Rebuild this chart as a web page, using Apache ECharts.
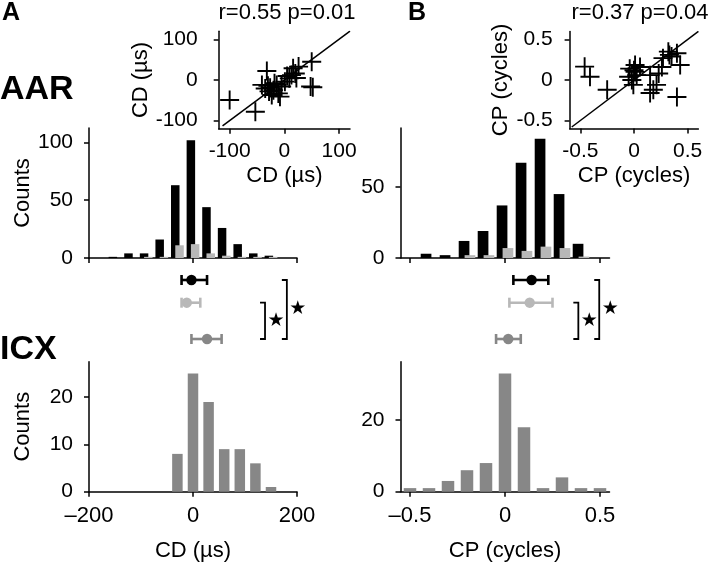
<!DOCTYPE html>
<html><head><meta charset="utf-8">
<script src="https://cdn.jsdelivr.net/npm/echarts@6/dist/echarts.min.js"></script>
<style>html,body{margin:0;padding:0;background:#fff}#c{width:720px;height:564px}</style>
</head><body><div id="c"></div>
<script>
// ---------------- data ----------------
// A: CD histograms (µs)
const cdBins = [-150,-120,-90,-60,-30,0,30,60,90,120,150];
const cdAarAll = [1,4,4,16,63,102,44,26,12,4,2];
const cdAarSub = [0,0,1,1,11,12,4,2,1,1,1];
const cdIcxBins = [-30,0,30,60,90,120,150];
const cdIcx = [8,25,19,9,9,6,1];
// B: CP histograms (cycles)
const cpBins = [-0.4,-0.3,-0.2,-0.1,0,0.1,0.2,0.3,0.4];
const cpAarAll = [3,2,12,19,37,67,84,45,10];
const cpAarSub = [0,0,2,2,7,5,8,7,1];
const cpIcxBins = [-0.5,-0.4,-0.3,-0.2,-0.1,0,0.1,0.2,0.3,0.4,0.5];
const cpIcx = [1,1,3,6,8,33,18,1,4,1,1];
// means with confidence intervals: [AAR all, AAR subset, ICX]
const cdMean = [-3,-12,27];
const cdLow  = [-22,-22,-3];
const cdHigh = [27,14,55];
const cpMean = [0.14,0.13,0.017];
const cpLow  = [0.044,0.023,-0.047];
const cpHigh = [0.228,0.25,0.083];
// inset scatter (subset vs ICX)
const cdScX = [-100,-53,-32,-41,-26,-20,-11,-5,-14,1,9,20,16,26,50,48,-35,-8,-23,13,-18,5,-28,22,52,-30];
const cdScY = [-49,-78,22,-12,-19,-25,-33,-16,-12,-4,4,16,29,33,45,-16,-21,-41,-37,12,-8,10,-28,5,-18,-14];
const cpScX = [-0.46,-0.41,-0.25,-0.04,0.01,-0.02,0.025,-0.05,0.056,-0.006,0.15,0.23,0.26,0.21,0.18,0.15,0.32,0.35,0.40,0.43,0.40,0.27,0.01,0.0,0.33];
const cpScY = [0.165,0.04,-0.12,0.14,0.10,0.0,0.06,0.04,0.16,-0.06,0.06,0.08,0.16,-0.06,-0.12,-0.16,0.35,0.29,0.33,0.185,-0.21,0.27,0.185,0.12,0.31];
const cdStats = 'r=0.55 p=0.01';
const cpStats = 'r=0.37 p=0.04';
const cdTicks = [-200,0,200];
const cpTicks = [-0.5,0,0.5];

// ---------------- chart ----------------
const FONT = "'Liberation Sans', Arial, Helvetica, sans-serif";
const BLACK = '#000', LIGHT = '#b8b8b8', MID = '#878787';
const rowLevel = [0, 1, 2.6];
const rowColor = [BLACK, LIGHT, MID];
const zip = (a, b) => a.map((v, i) => [v, b[i]]);
const dash = v => String(v).replace('-', '\u2013');

function axisBase(extra) {
  return Object.assign({
    axisLine: {show: true, onZero: false, lineStyle: {color: '#000', width: 1.5}},
    axisTick: {show: true, length: 5, lineStyle: {color: '#000', width: 1.5}},
    splitLine: {show: false},
    axisLabel: {color: '#000', fontSize: 21, fontFamily: FONT},
    nameTextStyle: {color: '#000', fontSize: 22, fontFamily: FONT},
    nameLocation: 'middle'
  }, extra);
}
function ticks(vals, showLabel, fmt, margin, fs) {
  return {
    axisTick: {show: true, length: 5, lineStyle: {color: '#000', width: 1.5}, customValues: vals},
    axisLabel: {show: showLabel, customValues: vals, color: '#000', fontSize: fs || 21, fontFamily: FONT,
      margin: margin, formatter: fmt || (v => String(v))}
  };
}
function mergeAx(base, t) {
  base.axisTick = t.axisTick; base.axisLabel = t.axisLabel; return base;
}

const grids = [
  {left: 89, top: 128, width: 208, height: 130},        // 0 A hist AAR
  {left: 89, top: 268.65, width: 208, height: 81.7},    // 1 A error bars
  {left: 89, top: 361.7, width: 208, height: 130},      // 2 A hist ICX
  {left: 218.7, top: 31.2, width: 131.3, height: 97.6}, // 3 A scatter
  {left: 400.5, top: 128, width: 209, height: 130},     // 4 B hist AAR
  {left: 400.5, top: 268.65, width: 209, height: 81.7}, // 5 B error bars
  {left: 400.5, top: 361.7, width: 209, height: 130},   // 6 B hist ICX
  {left: 569.6, top: 31.4, width: 128.8, height: 97.2}  // 7 B scatter
];

const xAxes = [
  mergeAx(axisBase({type: 'value', gridIndex: 0, min: -200, max: 200}), ticks(cdTicks, false)),
  axisBase({type: 'value', gridIndex: 1, min: -200, max: 200, show: false}),
  mergeAx(axisBase({type: 'value', gridIndex: 2, min: -200, max: 200, name: 'CD (\u00b5s)', nameGap: 48}), ticks(cdTicks, true, dash, 13, 22)),
  mergeAx(axisBase({type: 'value', gridIndex: 3, min: -120, max: 120, name: 'CD (\u00b5s)', nameGap: 36}), ticks([-100,0,100], true, null, 12)),
  mergeAx(axisBase({type: 'value', gridIndex: 4, min: -0.55, max: 0.55}), ticks(cpTicks, false)),
  axisBase({type: 'value', gridIndex: 5, min: -0.55, max: 0.55, show: false}),
  mergeAx(axisBase({type: 'value', gridIndex: 6, min: -0.55, max: 0.55, name: 'CP (cycles)', nameGap: 48}), ticks(cpTicks, true, dash, 13, 22)),
  mergeAx(axisBase({type: 'value', gridIndex: 7, min: -0.6, max: 0.6, name: 'CP (cycles)', nameGap: 36}), ticks(cpTicks, true, null, 12))
];
const yAxes = [
  mergeAx(axisBase({type: 'value', gridIndex: 0, min: 0, max: 112.5, name: 'Counts', nameGap: 55}), ticks([0,50,100], true, null, 16)),
  axisBase({type: 'value', gridIndex: 1, min: -0.5, max: 3.1, inverse: true, show: false}),
  mergeAx(axisBase({type: 'value', gridIndex: 2, min: 0, max: 27.5, name: 'Counts', nameGap: 55}), ticks([0,10,20], true, null, 16)),
  mergeAx(axisBase({type: 'value', gridIndex: 3, min: -120, max: 120, name: 'CD (\u00b5s)', nameGap: 60}), ticks([-100,0,100], true, null, 21)),
  mergeAx(axisBase({type: 'value', gridIndex: 4, min: 0, max: 91.5}), ticks([0,50], true, null, 16)),
  axisBase({type: 'value', gridIndex: 5, min: -0.5, max: 3.1, inverse: true, show: false}),
  mergeAx(axisBase({type: 'value', gridIndex: 6, min: 0, max: 36.3}), ticks([0,20], true, null, 16)),
  mergeAx(axisBase({type: 'value', gridIndex: 7, min: -0.6, max: 0.6, name: 'CP (cycles)', nameGap: 58}), ticks(cpTicks, true, null, 17))
];

function errSeries(idx, mean, lo, hi) {
  return {
    type: 'custom', xAxisIndex: idx, yAxisIndex: idx, silent: true,
    data: mean.map((m, i) => [m, lo[i], hi[i], rowLevel[i]]),
    renderItem: function (params, api) {
      const c = rowColor[params.dataIndex];
      const lv = api.value(3);
      const pm = api.coord([api.value(0), lv]);
      const pl = api.coord([api.value(1), lv]);
      const ph = api.coord([api.value(2), lv]);
      const st = {stroke: c, lineWidth: 2.6};
      return {type: 'group', children: [
        {type: 'line', shape: {x1: pl[0], y1: pl[1], x2: ph[0], y2: ph[1]}, style: st},
        {type: 'line', shape: {x1: pl[0], y1: pl[1] - 5, x2: pl[0], y2: pl[1] + 5}, style: st},
        {type: 'line', shape: {x1: ph[0], y1: ph[1] - 5, x2: ph[0], y2: ph[1] + 5}, style: st},
        {type: 'circle', shape: {cx: pm[0], cy: pm[1], r: 5.2}, style: {fill: c}}
      ]};
    }
  };
}
function bracketSeries(idx, xs) {
  // [x position, from row, to row]
  return {
    type: 'custom', xAxisIndex: idx, yAxisIndex: idx, silent: true,
    data: [[xs[0], rowLevel[1], rowLevel[2]], [xs[1], rowLevel[0], rowLevel[2]]],
    renderItem: function (params, api) {
      const a = api.coord([api.value(0), api.value(1)]);
      const b = api.coord([api.value(0), api.value(2)]);
      return {type: 'group', children: [
        {type: 'polyline', shape: {points: [[a[0] - 5, a[1]], [a[0], a[1]], [b[0], b[1]], [b[0] - 5, b[1]]]},
          style: {stroke: '#000', lineWidth: 1.8, fill: null}},
        {type: 'text', style: {text: '\u2605', x: a[0] + 11, y: (a[1] + b[1]) / 2, fill: '#000',
          fontSize: 19, align: 'center', verticalAlign: 'middle', fontFamily: 'DejaVu Sans'}}
      ]};
    }
  };
}
const plusSym = 'path://M-1,-10L1,-10L1,-1L10,-1L10,1L1,1L1,10L-1,10L-1,1L-10,1L-10,-1L-1,-1Z';
function scatterSeries(idx, xs, ys) {
  return {type: 'scatter', xAxisIndex: idx, yAxisIndex: idx, symbol: plusSym, symbolSize: 19,
    itemStyle: {color: '#000', opacity: 1}, data: zip(xs, ys), z: 3};
}
function diagSeries(idx, lo, hi) {
  return {type: 'line', xAxisIndex: idx, yAxisIndex: idx, data: [[lo, lo], [hi, hi]], symbol: 'none',
    lineStyle: {color: '#000', width: 1.5}, z: 2};
}

const option = {
  animation: false,
  backgroundColor: '#fff',
  textStyle: {fontFamily: FONT},
  grid: grids,
  xAxis: xAxes,
  yAxis: yAxes,
  series: [
    {type: 'bar', xAxisIndex: 0, yAxisIndex: 0, data: zip(cdBins, cdAarAll), barWidth: 8.5, barGap: '-50%', itemStyle: {color: BLACK}},
    {type: 'bar', xAxisIndex: 0, yAxisIndex: 0, data: zip(cdBins, cdAarSub), barWidth: 8.5, barGap: '-50%', itemStyle: {color: LIGHT}},
    errSeries(1, cdMean, cdLow, cdHigh),
    bracketSeries(1, [138.5, 180.5]),
    {type: 'bar', xAxisIndex: 2, yAxisIndex: 2, data: zip(cdIcxBins, cdIcx), barWidth: 10.5, itemStyle: {color: MID}},
    diagSeries(3, -113, 120),
    scatterSeries(3, cdScX, cdScY),
    {type: 'bar', xAxisIndex: 4, yAxisIndex: 4, data: zip(cpBins, cpAarAll), barWidth: 10.7, barGap: '-45%', itemStyle: {color: BLACK}},
    {type: 'bar', xAxisIndex: 4, yAxisIndex: 4, data: zip(cpBins, cpAarSub), barWidth: 10.7, barGap: '-45%', itemStyle: {color: LIGHT}},
    errSeries(5, cpMean, cpLow, cpHigh),
    bracketSeries(5, [0.386, 0.496]),
    {type: 'bar', xAxisIndex: 6, yAxisIndex: 6, data: zip(cpIcxBins, cpIcx), barWidth: 12.5, itemStyle: {color: MID}},
    diagSeries(7, -0.58, 0.6),
    scatterSeries(7, cpScX, cpScY)
  ],
  graphic: [
    {type: 'text', left: 2, top: 1, style: {text: 'A', fontSize: 25, fontWeight: 'bold', fontFamily: FONT, fill: '#000'}},
    {type: 'text', left: 408, top: 1, style: {text: 'B', fontSize: 25, fontWeight: 'bold', fontFamily: FONT, fill: '#000'}},
    {type: 'text', left: 0, top: 73, style: {text: 'AAR', fontSize: 34, fontWeight: 'bold', fontFamily: FONT, fill: '#000'}},
    {type: 'text', left: 0, top: 333, style: {text: 'ICX', fontSize: 34, fontWeight: 'bold', fontFamily: FONT, fill: '#000'}},
    {type: 'text', x: 287, y: 2, style: {text: cdStats, fontSize: 22, fontFamily: FONT, fill: '#000', align: 'center', verticalAlign: 'top'}},
    {type: 'text', x: 640, y: 2, style: {text: cpStats, fontSize: 22, fontFamily: FONT, fill: '#000', align: 'center', verticalAlign: 'top'}}
  ]
};
const chart = echarts.init(document.getElementById('c'), null, {renderer: 'canvas'});
chart.setOption(option);
</script></body></html>
